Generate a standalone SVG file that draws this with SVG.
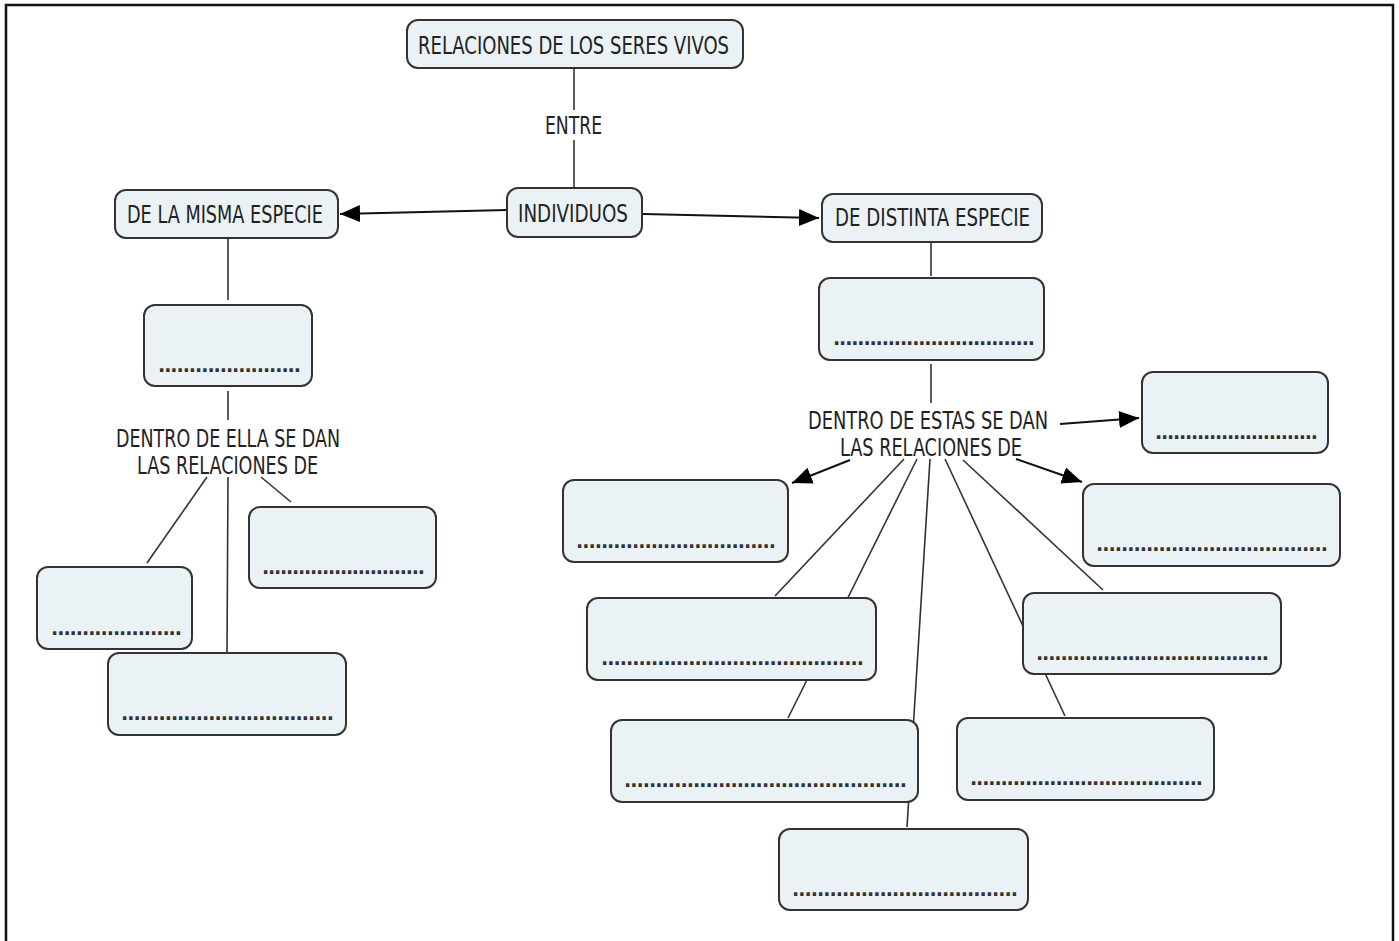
<svg xmlns="http://www.w3.org/2000/svg" width="1399" height="941" viewBox="0 0 1399 941">
<defs>
<style>
.box{fill:#ebf2f5;stroke:#333;stroke-width:2}
.lbl{font-family:"DejaVu Sans Condensed","DejaVu Sans",sans-serif;font-size:24px;fill:#222}
.dots{font-family:"DejaVu Sans",sans-serif;font-size:19px;fill:#333;font-weight:bold}
.ln{stroke:#333;stroke-width:1.6;fill:none}
.ar{stroke:#111;stroke-width:2;fill:none}
</style>
<marker id="ahb" viewBox="0 0 10 10" refX="10" refY="5" markerWidth="20" markerHeight="17" markerUnits="userSpaceOnUse" orient="auto" preserveAspectRatio="none">
<path d="M0,0 L10,5 L0,10 z" fill="#000"/>
</marker>
</defs>
<rect width="1399" height="941" fill="#fff"/>
<path d="M6,941 V5 H1393 V941" fill="none" stroke="#111" stroke-width="2.5"/>

<g id="connectors">
<line class="ln" x1="574" y1="69" x2="574" y2="110"/>
<line class="ln" x1="574" y1="140" x2="574" y2="188"/>
<line class="ar" x1="507" y1="210" x2="340" y2="214" marker-end="url(#ahb)"/>
<line class="ar" x1="643" y1="214" x2="819" y2="218" marker-end="url(#ahb)"/>
<line class="ln" x1="228" y1="238" x2="228" y2="300"/>
<line class="ln" x1="228" y1="391" x2="228" y2="420"/>
<line class="ln" x1="207" y1="477" x2="147" y2="563"/>
<line class="ln" x1="228" y1="477" x2="227" y2="652"/>
<line class="ln" x1="261" y1="477" x2="291" y2="502"/>
<line class="ln" x1="931" y1="242" x2="931" y2="276"/>
<line class="ln" x1="931" y1="364" x2="931" y2="403"/>
<line class="ar" x1="1060" y1="424" x2="1139" y2="418" marker-end="url(#ahb)"/>
<line class="ar" x1="850" y1="460" x2="792" y2="483" marker-end="url(#ahb)"/>
<line class="ar" x1="1016" y1="459" x2="1082" y2="482" marker-end="url(#ahb)"/>
<line class="ln" x1="904" y1="459" x2="775" y2="596"/>
<line class="ln" x1="917" y1="459" x2="788" y2="718"/>
<line class="ln" x1="930" y1="459" x2="907" y2="827"/>
<line class="ln" x1="945" y1="459" x2="1065" y2="716"/>
<line class="ln" x1="963" y1="460" x2="1103" y2="590"/>
</g>

<g id="n-relaciones">
<rect class="box" x="407" y="20" width="336" height="48" rx="11"/>
<text class="lbl" x="418" y="54" textLength="311" lengthAdjust="spacingAndGlyphs">RELACIONES DE LOS SERES VIVOS</text>
</g>
<g id="l-entre">
<text class="lbl" x="545" y="134" textLength="57" lengthAdjust="spacingAndGlyphs">ENTRE</text>
</g>
<g id="n-individuos">
<rect class="box" x="507" y="188" width="135" height="49" rx="11"/>
<text class="lbl" x="518" y="222" textLength="110" lengthAdjust="spacingAndGlyphs">INDIVIDUOS</text>
</g>
<g id="n-misma">
<rect class="box" x="115" y="190" width="223" height="48" rx="11"/>
<text class="lbl" x="127" y="223" textLength="196" lengthAdjust="spacingAndGlyphs">DE LA MISMA ESPECIE</text>
</g>
<g id="n-distinta">
<rect class="box" x="822" y="194" width="220" height="48" rx="11"/>
<text class="lbl" x="835" y="226" textLength="195" lengthAdjust="spacingAndGlyphs">DE DISTINTA ESPECIE</text>
</g>

<g id="n-l1">
<rect class="box" x="144" y="305" width="168" height="81" rx="11"/>
<text class="dots" x="158" y="372" textLength="143" lengthAdjust="spacing">.......................</text>
</g>
<g id="l-ella">
<text class="lbl" x="116" y="447" textLength="224" lengthAdjust="spacingAndGlyphs">DENTRO DE ELLA SE DAN</text>
<text class="lbl" x="137" y="474" textLength="181" lengthAdjust="spacingAndGlyphs">LAS RELACIONES DE</text>
</g>
<g id="n-l-right">
<rect class="box" x="249" y="507" width="187" height="81" rx="11"/>
<text class="dots" x="262" y="574" textLength="163" lengthAdjust="spacing">...........................</text>
</g>
<g id="n-l-small">
<rect class="box" x="37" y="567" width="155" height="82" rx="11"/>
<text class="dots" x="51" y="635" textLength="131" lengthAdjust="spacing">.....................</text>
</g>
<g id="n-l-bottom">
<rect class="box" x="108" y="653" width="238" height="82" rx="11"/>
<text class="dots" x="121" y="720" textLength="213" lengthAdjust="spacing">..................................</text>
</g>

<g id="n-r1">
<rect class="box" x="819" y="278" width="225" height="82" rx="11"/>
<text class="dots" x="833" y="345" textLength="202" lengthAdjust="spacing">.................................</text>
</g>
<g id="l-estas">
<text class="lbl" x="808" y="429" textLength="240" lengthAdjust="spacingAndGlyphs">DENTRO DE ESTAS SE DAN</text>
<text class="lbl" x="840" y="456" textLength="182" lengthAdjust="spacingAndGlyphs">LAS RELACIONES DE</text>
</g>
<g id="n-r-right">
<rect class="box" x="1142" y="372" width="186" height="81" rx="11"/>
<text class="dots" x="1155" y="439" textLength="163" lengthAdjust="spacing">...........................</text>
</g>
<g id="n-r-left">
<rect class="box" x="563" y="480" width="225" height="82" rx="11"/>
<text class="dots" x="576" y="548" textLength="200" lengthAdjust="spacing">................................</text>
</g>
<g id="n-r-rightdown">
<rect class="box" x="1083" y="484" width="257" height="82" rx="11"/>
<text class="dots" x="1096" y="551" textLength="232" lengthAdjust="spacing">.....................................</text>
</g>
<g id="n-b2">
<rect class="box" x="587" y="598" width="289" height="82" rx="11"/>
<text class="dots" x="601" y="665" textLength="263" lengthAdjust="spacing">..........................................</text>
</g>
<g id="n-b5">
<rect class="box" x="1023" y="593" width="258" height="81" rx="11"/>
<text class="dots" x="1036" y="660" textLength="233" lengthAdjust="spacing">......................................</text>
</g>
<g id="n-b3">
<rect class="box" x="611" y="720" width="307" height="82" rx="11"/>
<text class="dots" x="624" y="787" textLength="283" lengthAdjust="spacing">.............................................</text>
</g>
<g id="n-b6">
<rect class="box" x="957" y="718" width="257" height="82" rx="11"/>
<text class="dots" x="970" y="785" textLength="233" lengthAdjust="spacing">......................................</text>
</g>
<g id="n-b4">
<rect class="box" x="779" y="829" width="249" height="81" rx="11"/>
<text class="dots" x="792" y="896" textLength="226" lengthAdjust="spacing">....................................</text>
</g>
</svg>
